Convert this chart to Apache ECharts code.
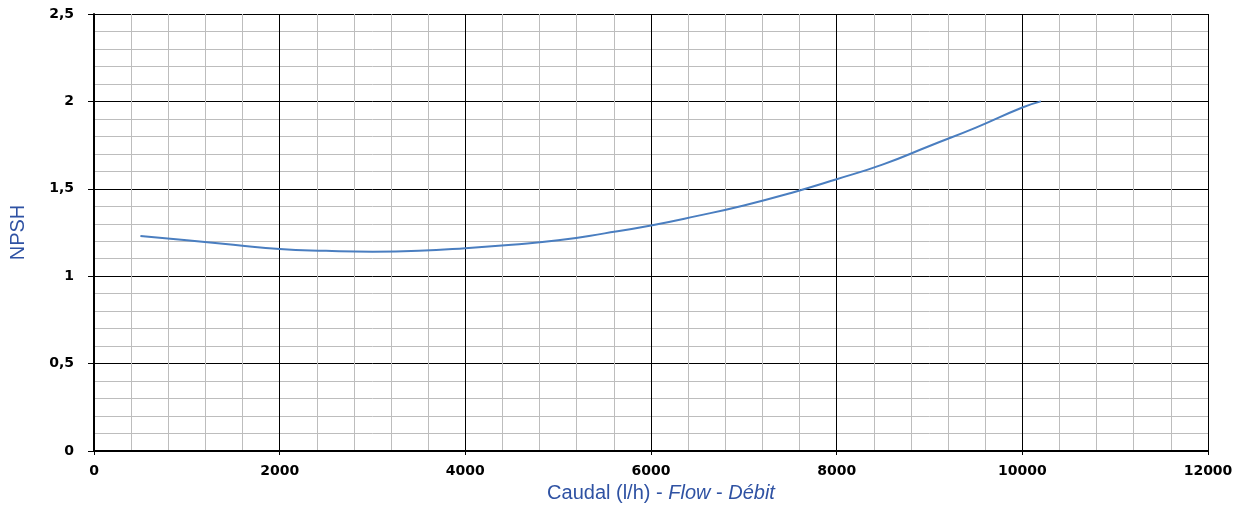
<!DOCTYPE html>
<html>
<head>
<meta charset="utf-8">
<script src="https://cdn.jsdelivr.net/npm/echarts@6/dist/echarts.min.js"></script>
<style>
  html, body { margin: 0; padding: 0; background: #fff; }
  #chart { width: 1242px; height: 508px; }
</style>
</head>
<body>
<div id="chart"></div>
<script>
// flow (l/h) and NPSH
const flow = [500, 1000, 1500, 2000, 2500, 3000, 3500, 4000, 4500, 5000, 5500, 6000, 6500, 7000, 7500, 8000, 8500, 9000, 9500, 10000, 10200];
const npsh = [1.23, 1.205, 1.18, 1.155, 1.145, 1.14, 1.145, 1.16, 1.18, 1.205, 1.245, 1.29, 1.345, 1.405, 1.475, 1.555, 1.64, 1.745, 1.85, 1.965, 2.0];

const xName = 'Caudal (l/h)';
const yName = 'NPSH';

const chart = echarts.init(document.getElementById('chart'));

const labelStyle = {
  color: '#000',
  fontFamily: 'DejaVu Sans',
  fontWeight: 'bold',
  fontSize: 14
};

chart.setOption({
  animation: false,
  backgroundColor: '#fff',
  grid: { left: 92, right: 34, top: 14, bottom: 55, containLabel: false },
  xAxis: {
    type: 'value',
    min: 0,
    max: 12000,
    interval: 2000,
    name: '{a|' + xName + ' - }{b|Flow}{a| - }{b|Débit}',
    nameLocation: 'middle',
    nameGap: 32,
    nameTextStyle: {
      padding: [0, 0, 0, 20],
      rich: {
        a: { color: '#2f52a3', fontFamily: 'Liberation Sans', fontSize: 20 },
        b: { color: '#2f52a3', fontFamily: 'Liberation Sans', fontSize: 20, fontStyle: 'italic' }
      }
    },
    axisLine: { show: true, lineStyle: { color: '#000', width: 2 } },
    axisTick: { show: true, length: 4, lineStyle: { color: '#000', width: 1 } },
    axisLabel: Object.assign({ margin: 13, formatter: v => String(v) }, labelStyle),
    splitLine: { show: true, lineStyle: { color: '#000', width: 1 } },
    minorTick: { show: false, splitNumber: 5 },
    minorSplitLine: { show: true, lineStyle: { color: '#bdbdbd', width: 1 } }
  },
  yAxis: {
    type: 'value',
    min: 0,
    max: 2.5,
    interval: 0.5,
    name: yName,
    nameLocation: 'middle',
    nameGap: 66,
    nameTextStyle: { color: '#2f52a3', fontFamily: 'Liberation Sans', fontSize: 20 },
    axisLine: { show: true, lineStyle: { color: '#000', width: 2 } },
    axisTick: { show: true, length: 6, lineStyle: { color: '#000', width: 1 } },
    axisLabel: Object.assign({
      margin: 20,
      formatter: v => String(v).replace('.', ',')
    }, labelStyle),
    splitLine: { show: true, lineStyle: { color: '#000', width: 1 } },
    minorTick: { show: false, splitNumber: 5 },
    minorSplitLine: { show: true, lineStyle: { color: '#bdbdbd', width: 1 } }
  },
  series: [{
    type: 'line',
    data: flow.map((f, i) => [f, npsh[i]]),
    smooth: true,
    showSymbol: false,
    lineStyle: { color: '#4a7ec0', width: 2 },
    z: 5
  }]
});

window.addEventListener('resize', () => chart.resize());
</script>
</body>
</html>
